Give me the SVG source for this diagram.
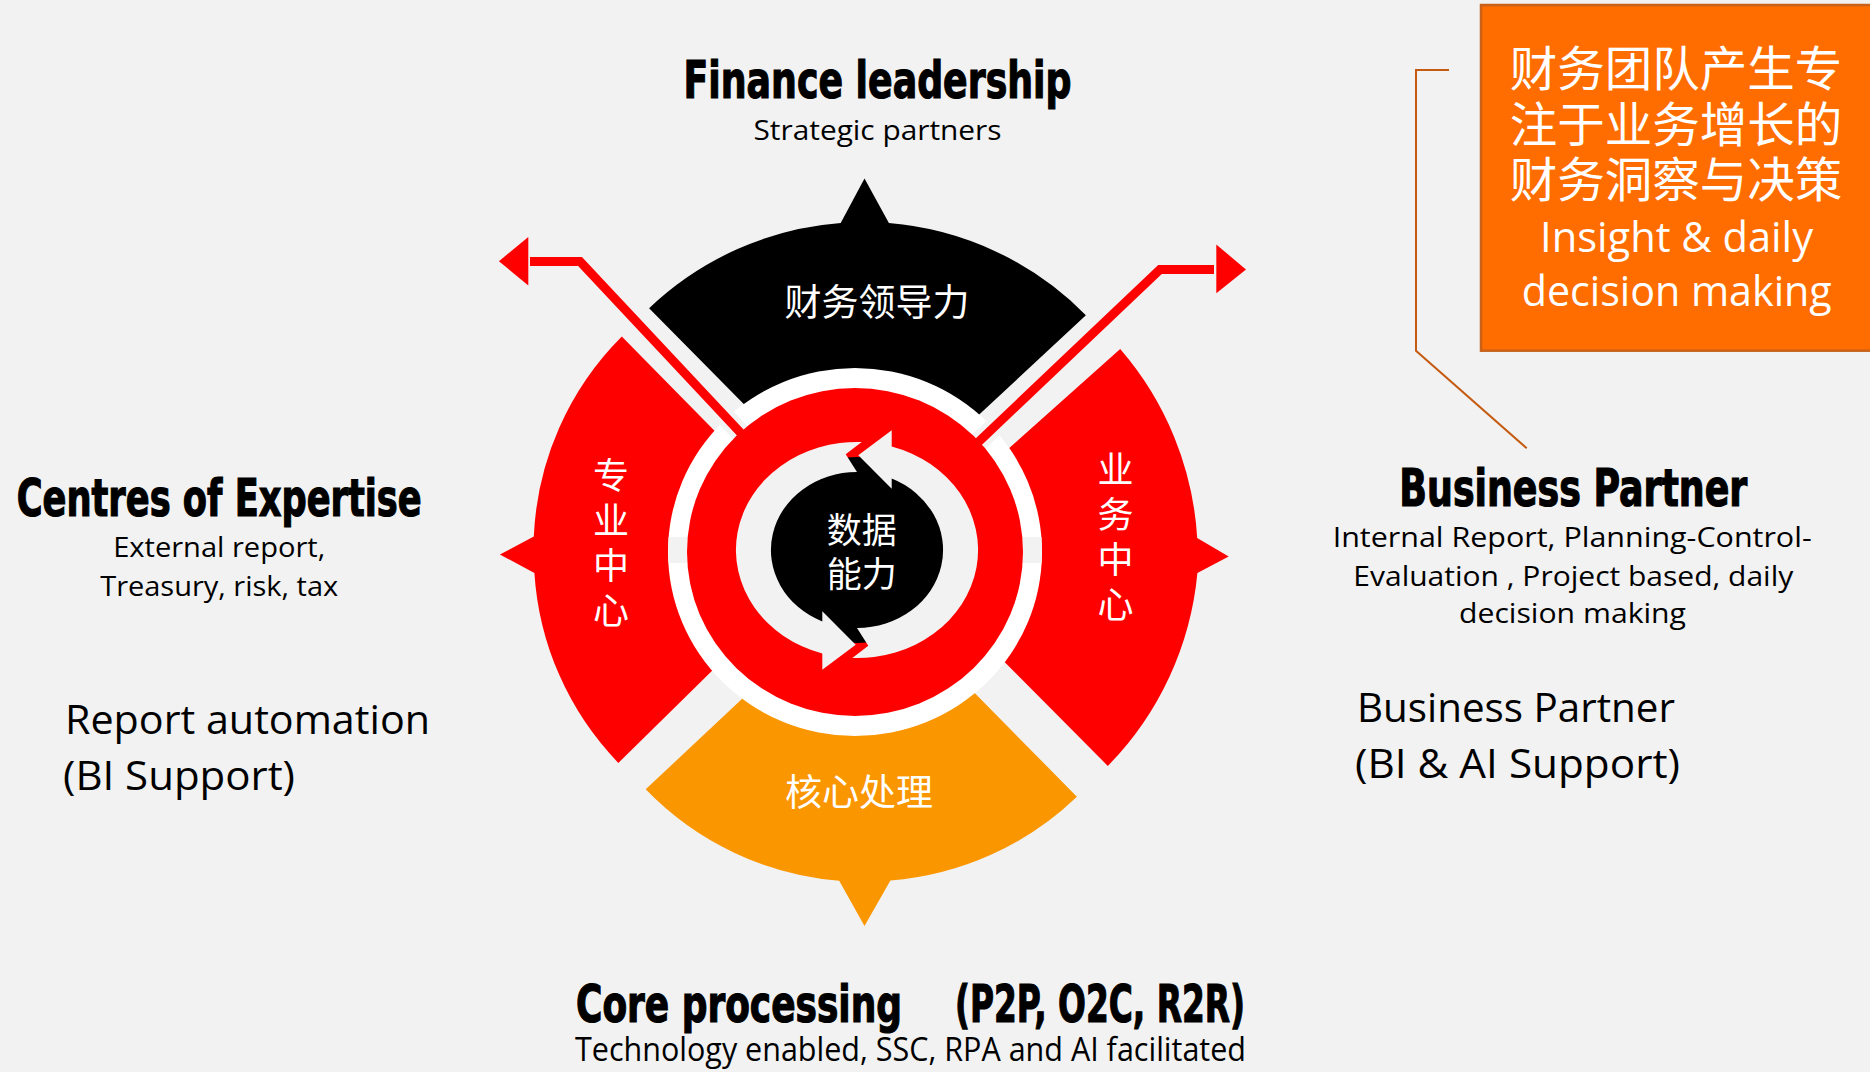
<svg xmlns="http://www.w3.org/2000/svg" xmlns:xlink="http://www.w3.org/1999/xlink" width="1870" height="1072" viewBox="0 0 1870 1072">
<defs>
<style>
.h{font-family:"Liberation Sans Narrow","DejaVu Sans Condensed","Liberation Sans",sans-serif;font-weight:bold;font-size:52px;fill:#000;stroke:#000;stroke-width:1.2px}
.b{font-family:"Open Sans","Noto Sans",sans-serif;fill:#000}
.s{font-size:28px}
.l{font-size:40px}
.cj{font-family:"Noto Sans CJK SC","Noto Sans",sans-serif;fill:#fff}
.w{font-family:"Open Sans","Noto Sans",sans-serif;fill:#fff;font-size:42px}
.mid{text-anchor:middle}
.gapline{fill:none;stroke:#f2f2f2;stroke-width:19}
.redline{fill:none;stroke:#ff0000;stroke-width:9}
</style>
<path id="arrow" d="M852.3,657.9 A121,108 0 0 0 891.7,446.5 L891.7,430.3 L858.3,455.3 L891.7,488.7 L891.7,478.6 A86,78 0 0 1 857,628 L868.3,645.7 Z" fill="#f2f2f2"/>
</defs>
<rect x="0" y="0" width="1870" height="1072" fill="#f2f2f2"/>

<g id="sector-leadership">
<path d="M771.7,432.2 L649.1,308.2 A312,312 0 0 1 840.7,223 L864.5,178.4 L888.9,223 A312,312 0 0 1 1085.9,315.2 L950.7,441 Z" fill="#000"/>
</g>
<g id="sector-expertise">
<path d="M741.8,458.6 L621.8,336.6 A301,301 0 0 0 533.8,536.6 L499.9,554.5 L534.4,572.9 A301,301 0 0 0 618.3,762.9 L739.8,643.4 Z" fill="#ff0000"/>
</g>
<g id="sector-business">
<path d="M980,474.1 L1120.2,349 A317.6,317.6 0 0 1 1197.2,538 L1228.7,556.5 L1197.4,572.9 A317.6,317.6 0 0 1 1107.8,765.9 L976.6,634 Z" fill="#ff0000"/>
</g>
<g id="sector-core">
<path d="M770.4,672.3 L645.7,789.3 A303,303 0 0 0 839.2,880.8 L864.5,926 L890.4,880.5 A303,303 0 0 0 1076.9,796.7 L946.9,664.8 Z" fill="#fa9600"/>
</g>

<g id="ring">
<ellipse cx="855" cy="552" rx="187" ry="184" fill="#fff"/>
<rect x="668.5" y="537" width="22" height="26" fill="#f2f2f2"/>
<rect x="1019.5" y="537" width="22" height="26" fill="#f2f2f2"/>
</g>

<g id="connectors">
<path class="gapline" d="M530,261.5 L580,261.5 L752,445"/>
<path class="gapline" d="M1214,269.5 L1160,269.5 L970,450"/>
<path id="bracket" d="M1449,70 L1416,70 L1416,350.7 L1526.7,448.3" fill="none" stroke="#c55a11" stroke-width="2"/>
</g>

<g id="core-ring">
<ellipse cx="855" cy="552" rx="168" ry="164" fill="#ff0000"/>
<ellipse cx="857" cy="550" rx="104" ry="93" fill="#000"/>
<use xlink:href="#arrow"/>
<use xlink:href="#arrow" transform="rotate(180 857 550)"/>
</g>

<g id="connector-arrows">
<path class="redline" d="M530,261.5 L580,261.5 L752,445"/>
<polygon points="528.3,237.1 498.9,261.2 528.3,285.4" fill="#ff0000"/>
<path class="redline" d="M1214,269.5 L1160,269.5 L970,450"/>
<polygon points="1216.3,244.6 1246,269.4 1216.3,293.3" fill="#ff0000"/>
</g>

<g id="labels-inner">
<text class="cj mid" x="877" y="316" font-size="37">财务领导力</text>
<text class="cj mid" x="859" y="806" font-size="37">核心处理</text>
<text class="cj mid" font-size="36"><tspan x="611" y="489">专</tspan><tspan x="611" y="534">业</tspan><tspan x="611" y="579">中</tspan><tspan x="611" y="624">心</tspan></text>
<text class="cj mid" font-size="36"><tspan x="1115.5" y="483">业</tspan><tspan x="1115.5" y="528">务</tspan><tspan x="1115.5" y="573">中</tspan><tspan x="1115.5" y="618">心</tspan></text>
<text class="cj mid" font-size="35"><tspan x="861.7" y="543">数据</tspan><tspan x="861.7" y="587">能力</tspan></text>
</g>

<g id="node-finance-leadership">
<text class="h mid" x="877.5" y="98" textLength="388" lengthAdjust="spacingAndGlyphs">Finance leadership</text>
<text class="b s mid" x="877.5" y="140" textLength="248" lengthAdjust="spacingAndGlyphs">Strategic partners</text>
</g>

<g id="node-centres-of-expertise">
<text class="h mid" x="219.2" y="516" textLength="405" lengthAdjust="spacingAndGlyphs">Centres of Expertise</text>
<text class="b s mid" x="219.2" y="557" textLength="212" lengthAdjust="spacingAndGlyphs">External report,</text>
<text class="b s mid" x="219.2" y="596" textLength="238" lengthAdjust="spacingAndGlyphs">Treasury, risk, tax</text>
<text class="b l" x="65" y="734" textLength="365" lengthAdjust="spacingAndGlyphs">Report automation</text>
<text class="b l" x="63" y="790" textLength="232" lengthAdjust="spacingAndGlyphs">(BI Support)</text>
</g>

<g id="node-business-partner">
<text class="h mid" x="1573.3" y="506" textLength="348" lengthAdjust="spacingAndGlyphs">Business Partner</text>
<text class="b s mid" x="1572.2" y="547" textLength="479" lengthAdjust="spacingAndGlyphs">Internal Report, Planning-Control-</text>
<text class="b s mid" x="1573.3" y="586" textLength="440" lengthAdjust="spacingAndGlyphs">Evaluation , Project based, daily</text>
<text class="b s mid" x="1572.5" y="623" textLength="227" lengthAdjust="spacingAndGlyphs">decision making</text>
<text class="b l" x="1357" y="722" textLength="318" lengthAdjust="spacingAndGlyphs">Business Partner</text>
<text class="b l" x="1355" y="778" textLength="325" lengthAdjust="spacingAndGlyphs">(BI &amp; AI Support)</text>
</g>

<g id="node-core-processing">
<text class="h" x="576" y="1022" textLength="326" lengthAdjust="spacingAndGlyphs">Core processing</text>
<text class="h" x="955" y="1022" textLength="290" lengthAdjust="spacingAndGlyphs">(P2P, O2C, R2R)</text>
<text class="b" x="575" y="1061" font-size="32" textLength="671" lengthAdjust="spacingAndGlyphs">Technology enabled, SSC, RPA and AI facilitated</text>
</g>

<g id="node-insight-box">
<rect x="1481" y="5" width="395" height="345.7" fill="#ff6d00" stroke="#c8621a" stroke-width="2.5"/>
<text class="cj mid" x="1676" y="86" font-size="47.5">财务团队产生专</text>
<text class="cj mid" x="1676" y="141.5" font-size="47.5">注于业务增长的</text>
<text class="cj mid" x="1676" y="196.5" font-size="47.5">财务洞察与决策</text>
<text class="w mid" x="1676.5" y="252" textLength="273" lengthAdjust="spacingAndGlyphs">Insight &amp; daily</text>
<text class="w mid" x="1676.7" y="306" textLength="310" lengthAdjust="spacingAndGlyphs">decision making</text>
</g>
</svg>
